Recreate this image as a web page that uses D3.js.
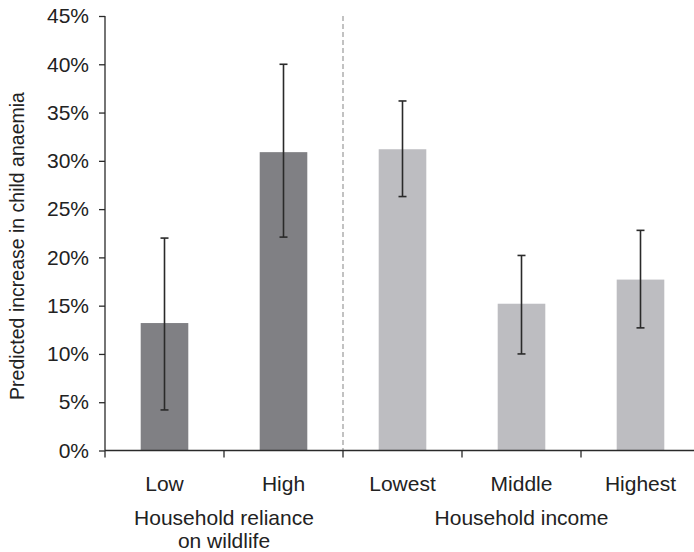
<!DOCTYPE html>
<html><head><meta charset="utf-8">
<script src="https://cdn.jsdelivr.net/npm/d3@7"></script>
<style>body{margin:0;background:#fff}text{font-family:"Liberation Sans",Arial,sans-serif;fill:#222}</style>
</head><body>
<svg id="c" width="694" height="552"></svg>
<script>
const categories = ["Low", "High", "Lowest", "Middle", "Highest"];
const groupOf = ["wildlife", "wildlife", "income", "income", "income"];
const values = [13.2, 30.9, 31.2, 15.2, 17.7];
const errLow = [4.2, 22.1, 26.3, 10.0, 12.7];
const errHigh = [22.0, 40.0, 36.2, 20.2, 22.8];
const yTicks = [0, 5, 10, 15, 20, 25, 30, 35, 40, 45];
const groupKeys = ["wildlife", "income"];
const groupLabels = [["Household reliance", "on wildlife"], ["Household income"]];
const groupColors = {wildlife: "#808084", income: "#bdbdc1"};
const yTitle = "Predicted increase in child anaemia";

const svg = d3.select("#c");
const x = d3.scaleBand().domain(categories).range([105, 700]).padding(0);
const y = d3.scaleLinear().domain([0, 45]).range([450.5, 16]);
const bw = x.bandwidth() * 0.4;
const data = categories.map((c, i) => ({c, g: groupOf[i], v: values[i], lo: errLow[i], hi: errHigh[i]}));

// bars
svg.append("g").selectAll("rect").data(data).join("rect")
  .attr("x", d => x(d.c) + x.bandwidth() / 2 - bw / 2)
  .attr("width", bw)
  .attr("y", d => y(d.v))
  .attr("height", d => y(0) - y(d.v))
  .attr("fill", d => groupColors[d.g]);

// separator dashed line
const sepX = x(categories[2]);
svg.append("line").attr("x1", sepX).attr("x2", sepX).attr("y1", y(45)).attr("y2", y(0))
  .attr("stroke", "#9a9a9a").attr("stroke-width", 1.2).attr("stroke-dasharray", "5,3");

// error bars
const eg = svg.append("g").attr("stroke", "#2a2a2a").attr("stroke-width", 1.6);
data.forEach(d => {
  const cx = x(d.c) + x.bandwidth() / 2;
  eg.append("line").attr("x1", cx).attr("x2", cx).attr("y1", y(d.lo)).attr("y2", y(d.hi));
  eg.append("line").attr("x1", cx - 4).attr("x2", cx + 4).attr("y1", y(d.lo)).attr("y2", y(d.lo));
  eg.append("line").attr("x1", cx - 4).attr("x2", cx + 4).attr("y1", y(d.hi)).attr("y2", y(d.hi));
});

// y axis
const yAxis = d3.axisLeft(y).tickValues(yTicks).tickSize(6).tickSizeOuter(0).tickPadding(10)
  .tickFormat(d => d + "%");
const ya = svg.append("g").attr("transform", "translate(105,0)").call(yAxis);
ya.selectAll("path, line").attr("stroke", "#2a2a2a").attr("stroke-width", 1.3);
ya.selectAll("text").style("font-size", "21px").attr("fill", "#222");
ya.select(".domain").attr("d", `M0,${y(45)}V${y(0)}`);

// x axis line and ticks
const xa = svg.append("g");
xa.append("line").attr("x1", 105).attr("x2", 694).attr("y1", 450.5).attr("y2", 450.5)
  .attr("stroke", "#2a2a2a").attr("stroke-width", 1.3);
xa.selectAll("line.t").data(categories).join("line").attr("class", "t")
  .attr("x1", d => x(d)).attr("x2", d => x(d)).attr("y1", 450.5).attr("y2", 457.5)
  .attr("stroke", "#2a2a2a").attr("stroke-width", 1.3);
xa.selectAll("text.cat").data(categories).join("text").attr("class", "cat")
  .attr("x", d => x(d) + x.bandwidth() / 2).attr("y", 491)
  .attr("text-anchor", "middle").style("font-size", "21px").text(d => d);

// group labels
groupKeys.forEach((g, gi) => {
  const members = data.filter(d => d.g === g);
  const cx = d3.mean(members, d => x(d.c) + x.bandwidth() / 2);
  groupLabels[gi].forEach((line, li) => {
    svg.append("text").attr("x", cx).attr("y", 525 + li * 23)
      .attr("text-anchor", "middle").style("font-size", "21px").text(line);
  });
});

// y title
svg.append("text").attr("transform", "translate(24,246) rotate(-90)")
  .attr("text-anchor", "middle").style("font-size", "19.5px").text(yTitle);
</script>
</body></html>
